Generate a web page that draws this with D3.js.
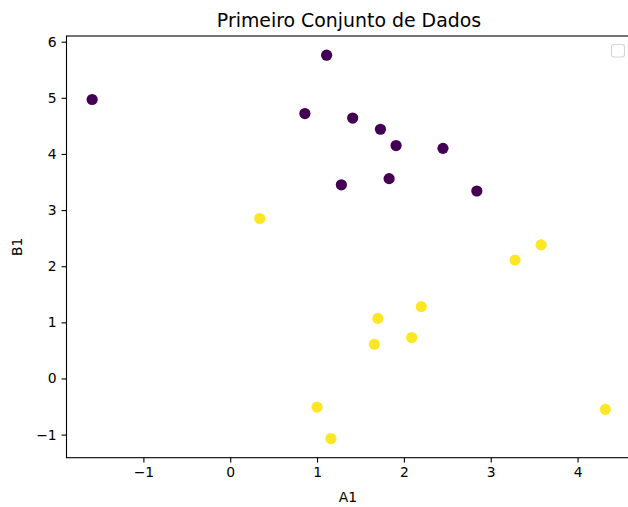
<!DOCTYPE html>
<html>
<head>
<meta charset="utf-8">
<script src="https://cdn.jsdelivr.net/npm/d3@7"></script>
<style>
  html, body { margin: 0; padding: 0; background: #fff; }
  svg { display: block; font-family: "DejaVu Sans", sans-serif; }
</style>
</head>
<body>
<svg id="chart" width="628" height="507"></svg>
<script>
// Scatter of the first dataset: A1 vs B1, coloured by group (0 = purple, 1 = yellow)
const a1 = [-1.59, 1.11, 0.86, 1.41, 1.73, 1.91, 2.45, 1.28, 1.83, 2.84,
             0.34, 3.58, 3.28, 2.20, 1.70, 2.09, 1.66, 1.00, 1.16, 4.32];
const b1 = [4.97, 5.76, 4.72, 4.64, 4.44, 4.15, 4.10, 3.45, 3.56, 3.34,
            2.85, 2.38, 2.11, 1.28, 1.07, 0.73, 0.61, -0.51, -1.07, -0.55];
const group = [0, 0, 0, 0, 0, 0, 0, 0, 0, 0,
               1, 1, 1, 1, 1, 1, 1, 1, 1, 1];
const xTicks = [-1, 0, 1, 2, 3, 4];
const yTicks = [-1, 0, 1, 2, 3, 4, 5, 6];
const titleText = "Primeiro Conjunto de Dados";
const xLabel = "A1";
const yLabel = "B1";

const svg = d3.select("#chart");
const plotL = 66.5, plotR = 631, plotT = 36, plotB = 457.7;

// 5% padding around the data range on each axis
function padded(vals) {
  const [lo, hi] = d3.extent(vals);
  const m = (hi - lo) * 0.05;
  return [lo - m, hi + m];
}
const x = d3.scaleLinear().domain(padded(a1)).range([plotL, plotR]);
const y = d3.scaleLinear().domain(padded(b1)).range([plotB, plotT]);
const color = d3.scaleOrdinal().domain([0, 1]).range(["#440154", "#fde725"]);

const fmt = d => d < 0 ? "\u2212" + Math.abs(d) : String(d);

// axes
const gx = svg.append("g").attr("transform", `translate(0,${plotB})`)
  .call(d3.axisBottom(x).tickValues(xTicks).tickFormat(fmt).tickSize(4.9).tickPadding(4.9).tickSizeOuter(0));
const gy = svg.append("g").attr("transform", `translate(${plotL},0)`)
  .call(d3.axisLeft(y).tickValues(yTicks).tickFormat(fmt).tickSize(4.9).tickPadding(4.9).tickSizeOuter(0));
[gx, gy].forEach(g => {
  g.select(".domain").remove();
  g.selectAll(".tick line").attr("stroke", "#000").attr("stroke-width", 1.1);
  g.selectAll(".tick text").attr("fill", "#000").style("font-size", "13.9px")
    .style("font-family", "'DejaVu Sans', sans-serif");
});

// points
svg.append("g").selectAll("circle")
  .data(a1.map((v, i) => ({ x: v, y: b1[i], g: group[i] })))
  .join("circle")
  .attr("cx", d => x(d.x))
  .attr("cy", d => y(d.y))
  .attr("r", 5.6)
  .attr("fill", d => color(d.g));

// frame
svg.append("rect")
  .attr("x", plotL).attr("y", plotT)
  .attr("width", plotR - plotL).attr("height", plotB - plotT)
  .attr("fill", "none").attr("stroke", "#000").attr("stroke-width", 1.1);

// empty legend box
svg.append("rect")
  .attr("x", 611.5).attr("y", 44.5).attr("width", 13).attr("height", 12.5)
  .attr("rx", 2.5)
  .attr("fill", "#fff").attr("fill-opacity", 0.8)
  .attr("stroke", "#d6d6d6").attr("stroke-width", 1.1);

// title and axis labels
svg.append("text")
  .attr("x", 349).attr("y", 27)
  .attr("text-anchor", "middle")
  .style("font-size", "18.9px")
  .text(titleText);
svg.append("text")
  .attr("x", 348).attr("y", 501.5)
  .attr("text-anchor", "middle")
  .style("font-size", "13.9px")
  .text(xLabel);
svg.append("text")
  .attr("transform", `translate(22,${(plotT + plotB) / 2}) rotate(-90)`)
  .attr("text-anchor", "middle")
  .style("font-size", "13.9px")
  .text(yLabel);
</script>
</body>
</html>
